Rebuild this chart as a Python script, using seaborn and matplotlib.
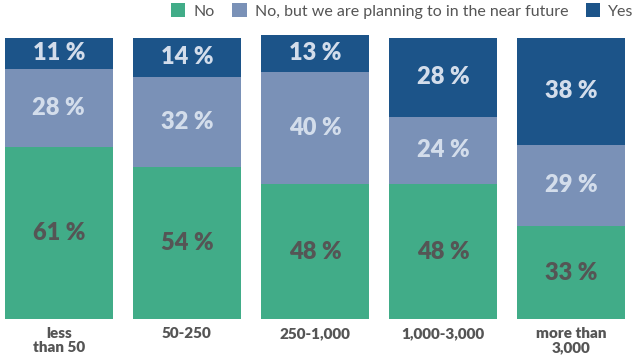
import matplotlib
matplotlib.use("Agg")
import matplotlib.pyplot as plt
import seaborn as sns
import numpy as np
import pandas as pd
from matplotlib.patches import Patch

categories = ["less\nthan 50", "50-250", "250-1,000", "1,000-3,000", "more than\n3,000"]
no_vals = [61, 54, 48, 48, 33]
planning_vals = [28, 32, 40, 24, 29]
yes_vals = [11, 14, 13, 28, 38]
series_names = ["No", "No, but we are planning to in the near future", "Yes"]

colors = ["#41ac88", "#7a91b7", "#1c5489"]
label_colors = ["#555555", "#d3ddeb", "#d3ddeb"]

sns.set_theme(style="white")
plt.rcParams['font.family'] = ['Lato', 'DejaVu Sans']

fig = plt.figure(figsize=(6.32, 3.63), dpi=100)
ax = fig.add_axes([5/632, 44/363, 620/632, 284/363])

df = pd.DataFrame({"cat": categories, "No": no_vals, "Plan": planning_vals, "Yes": yes_vals})
bottoms = np.zeros(len(categories))
for col, c, lc in zip(["No", "Plan", "Yes"], colors, label_colors):
    sns.barplot(data=df, x="cat", y=col, color=c, bottom=bottoms, width=0.84,
                saturation=1, ax=ax, linewidth=0)
    vals = df[col].values
    for i, v in enumerate(vals):
        ax.text(i, bottoms[i] + v / 2, f"{v} %", ha="center", va="center",
                fontsize=17, fontweight="heavy", color=lc)
    bottoms = bottoms + vals

ax.set_xlim(-0.42, 4.42)
ax.set_ylim(0, 101)
ax.set_xlabel("")
ax.set_ylabel("")
ax.set_yticks([])
ax.tick_params(axis="x", length=0, pad=6)
for lab in ax.get_xticklabels():
    lab.set_fontweight("heavy")
    lab.set_fontsize(11)
    lab.set_color("#555555")
    lab.set_linespacing(1.1)
for s in ax.spines.values():
    s.set_visible(False)

handles = [Patch(facecolor=c, edgecolor="none") for c in colors]
fig.legend(handles, series_names, loc="upper right", bbox_to_anchor=(1.025, 1.03),
           ncol=3, frameon=False, fontsize=11.5, handlelength=0.9, handleheight=0.9,
           handletextpad=0.5, columnspacing=1.1, labelcolor="#555555")

fig.savefig("out.png", dpi=100)
